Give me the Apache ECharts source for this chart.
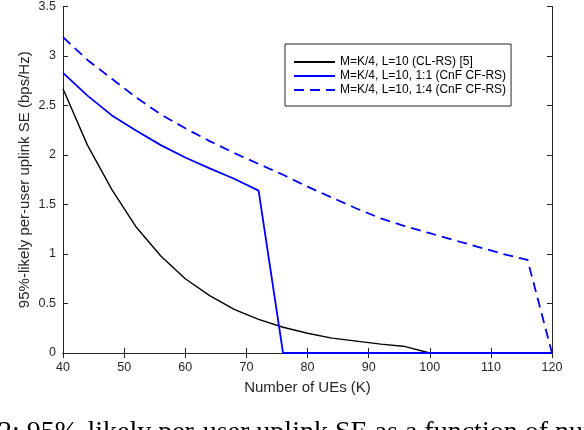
<!DOCTYPE html>
<html>
<head>
<meta charset="utf-8">
<script src="https://cdn.jsdelivr.net/npm/echarts@6/dist/echarts.min.js"></script>
<style>html,body{margin:0;padding:0;background:#fff;}#c{width:584px;height:430px;}</style>
</head>
<body>
<div id="c"></div>
<script>
const K = [40,44,48,52,56,60,64,68,72,76,80,84,88,92,96,100,104,108,112,116,120];
const seClRs = [2.67,2.10,1.65,1.27,0.98,0.75,0.58,0.44,0.34,0.26,0.20,0.15,0.12,0.09,0.065,0,0,0,0,0,0];
const seCnf11 = [2.83,2.60,2.40,2.245,2.10,1.975,1.865,1.76,1.64,0,0,0,0,0,0,0,0,0,0,0,0];
const seCnf14 = [3.19,2.96,2.77,2.58,2.41,2.27,2.14,2.02,1.91,1.80,1.68,1.57,1.46,1.36,1.28,1.21,1.14,1.07,1.00,0.94,0];
const names = ['M=K/4, L=10 (CL-RS) [5]','M=K/4, L=10, 1:1 (CnF CF-RS)','M=K/4, L=10, 1:4 (CnF CF-RS)'];
const xTicks = [40,50,60,70,80,90,100,110,120];

const pairs = arr => K.map((k,i)=>[k,arr[i]]);
const axisCol = '#262626';
const font = 'Liberation Sans, Arial, sans-serif';
const chart = echarts.init(document.getElementById('c'), null, {renderer:'canvas'});
chart.setOption({
  animation:false,
  backgroundColor:'#fff',
  grid:{left:63,right:32,top:5,bottom:77},
  legend:{
    orient:'vertical', left:285, top:44,
    data:names,
    itemWidth:41, itemHeight:14, itemGap:2,
    padding:[12,5,10,8],
    borderColor:'#262626', borderWidth:1,
    backgroundColor:'#fff',
    itemStyle:{opacity:0},
    textStyle:{fontFamily:font,fontSize:12,color:'#000'}
  },
  xAxis:[{
    type:'value',min:40,max:120,interval:10,
    name:'Number of UEs (K)',nameLocation:'middle',nameGap:27,
    nameTextStyle:{fontFamily:font,fontSize:15,color:axisCol},
    axisLine:{lineStyle:{color:axisCol,width:1}},
    axisTick:{inside:true,length:5,lineStyle:{color:axisCol}},
    axisLabel:{fontFamily:font,fontSize:12.5,color:axisCol,margin:8,
      formatter:v=>xTicks.includes(v)?String(v):''},
    splitLine:{show:false}
  },{
    type:'value',position:'top',min:40,max:120,interval:10,
    axisLine:{lineStyle:{color:axisCol,width:1}},
    axisTick:{inside:true,length:5,lineStyle:{color:axisCol}},
    axisLabel:{show:false},splitLine:{show:false}
  }],
  yAxis:[{
    type:'value',min:0,max:3.5,interval:0.5,
    name:'95%-likely per-user uplink SE (bps/Hz)',nameLocation:'middle',nameGap:31,
    nameMoveOverlap:false,
    nameTextStyle:{fontFamily:font,fontSize:15,color:axisCol},
    axisLine:{show:true,lineStyle:{color:axisCol,width:1}},
    axisTick:{show:true,inside:true,length:5,lineStyle:{color:axisCol}},
    axisLabel:{fontFamily:font,fontSize:12.5,color:axisCol,margin:7},
    splitLine:{show:false}
  },{
    type:'value',position:'right',min:0,max:3.5,interval:0.5,
    axisLine:{show:true,lineStyle:{color:axisCol,width:1}},
    axisTick:{show:true,inside:true,length:5,lineStyle:{color:axisCol}},
    axisLabel:{show:false},splitLine:{show:false}
  }],
  graphic:[{
    type:'text',x:-2,y:419,
    style:{text:'2: 95%-likely per-user uplink SE as a function of number of UEs',
      font:'28px "Liberation Serif", "Times New Roman", serif',fill:'#000',verticalAlign:'top'}
  }],
  series:[
    {name:names[0],type:'line',data:pairs(seClRs),symbol:'none',
      lineStyle:{color:'#000',width:1.4},itemStyle:{color:'#000'}},
    {name:names[1],type:'line',data:pairs(seCnf11),symbol:'none',
      lineStyle:{color:'#0000ff',width:1.8},itemStyle:{color:'#0000ff'}},
    {name:names[2],type:'line',data:pairs(seCnf14),symbol:'none',
      lineStyle:{color:'#0000ff',width:1.8,type:[10,6]},itemStyle:{color:'#0000ff'}}
  ]
});
</script>
</body>
</html>
